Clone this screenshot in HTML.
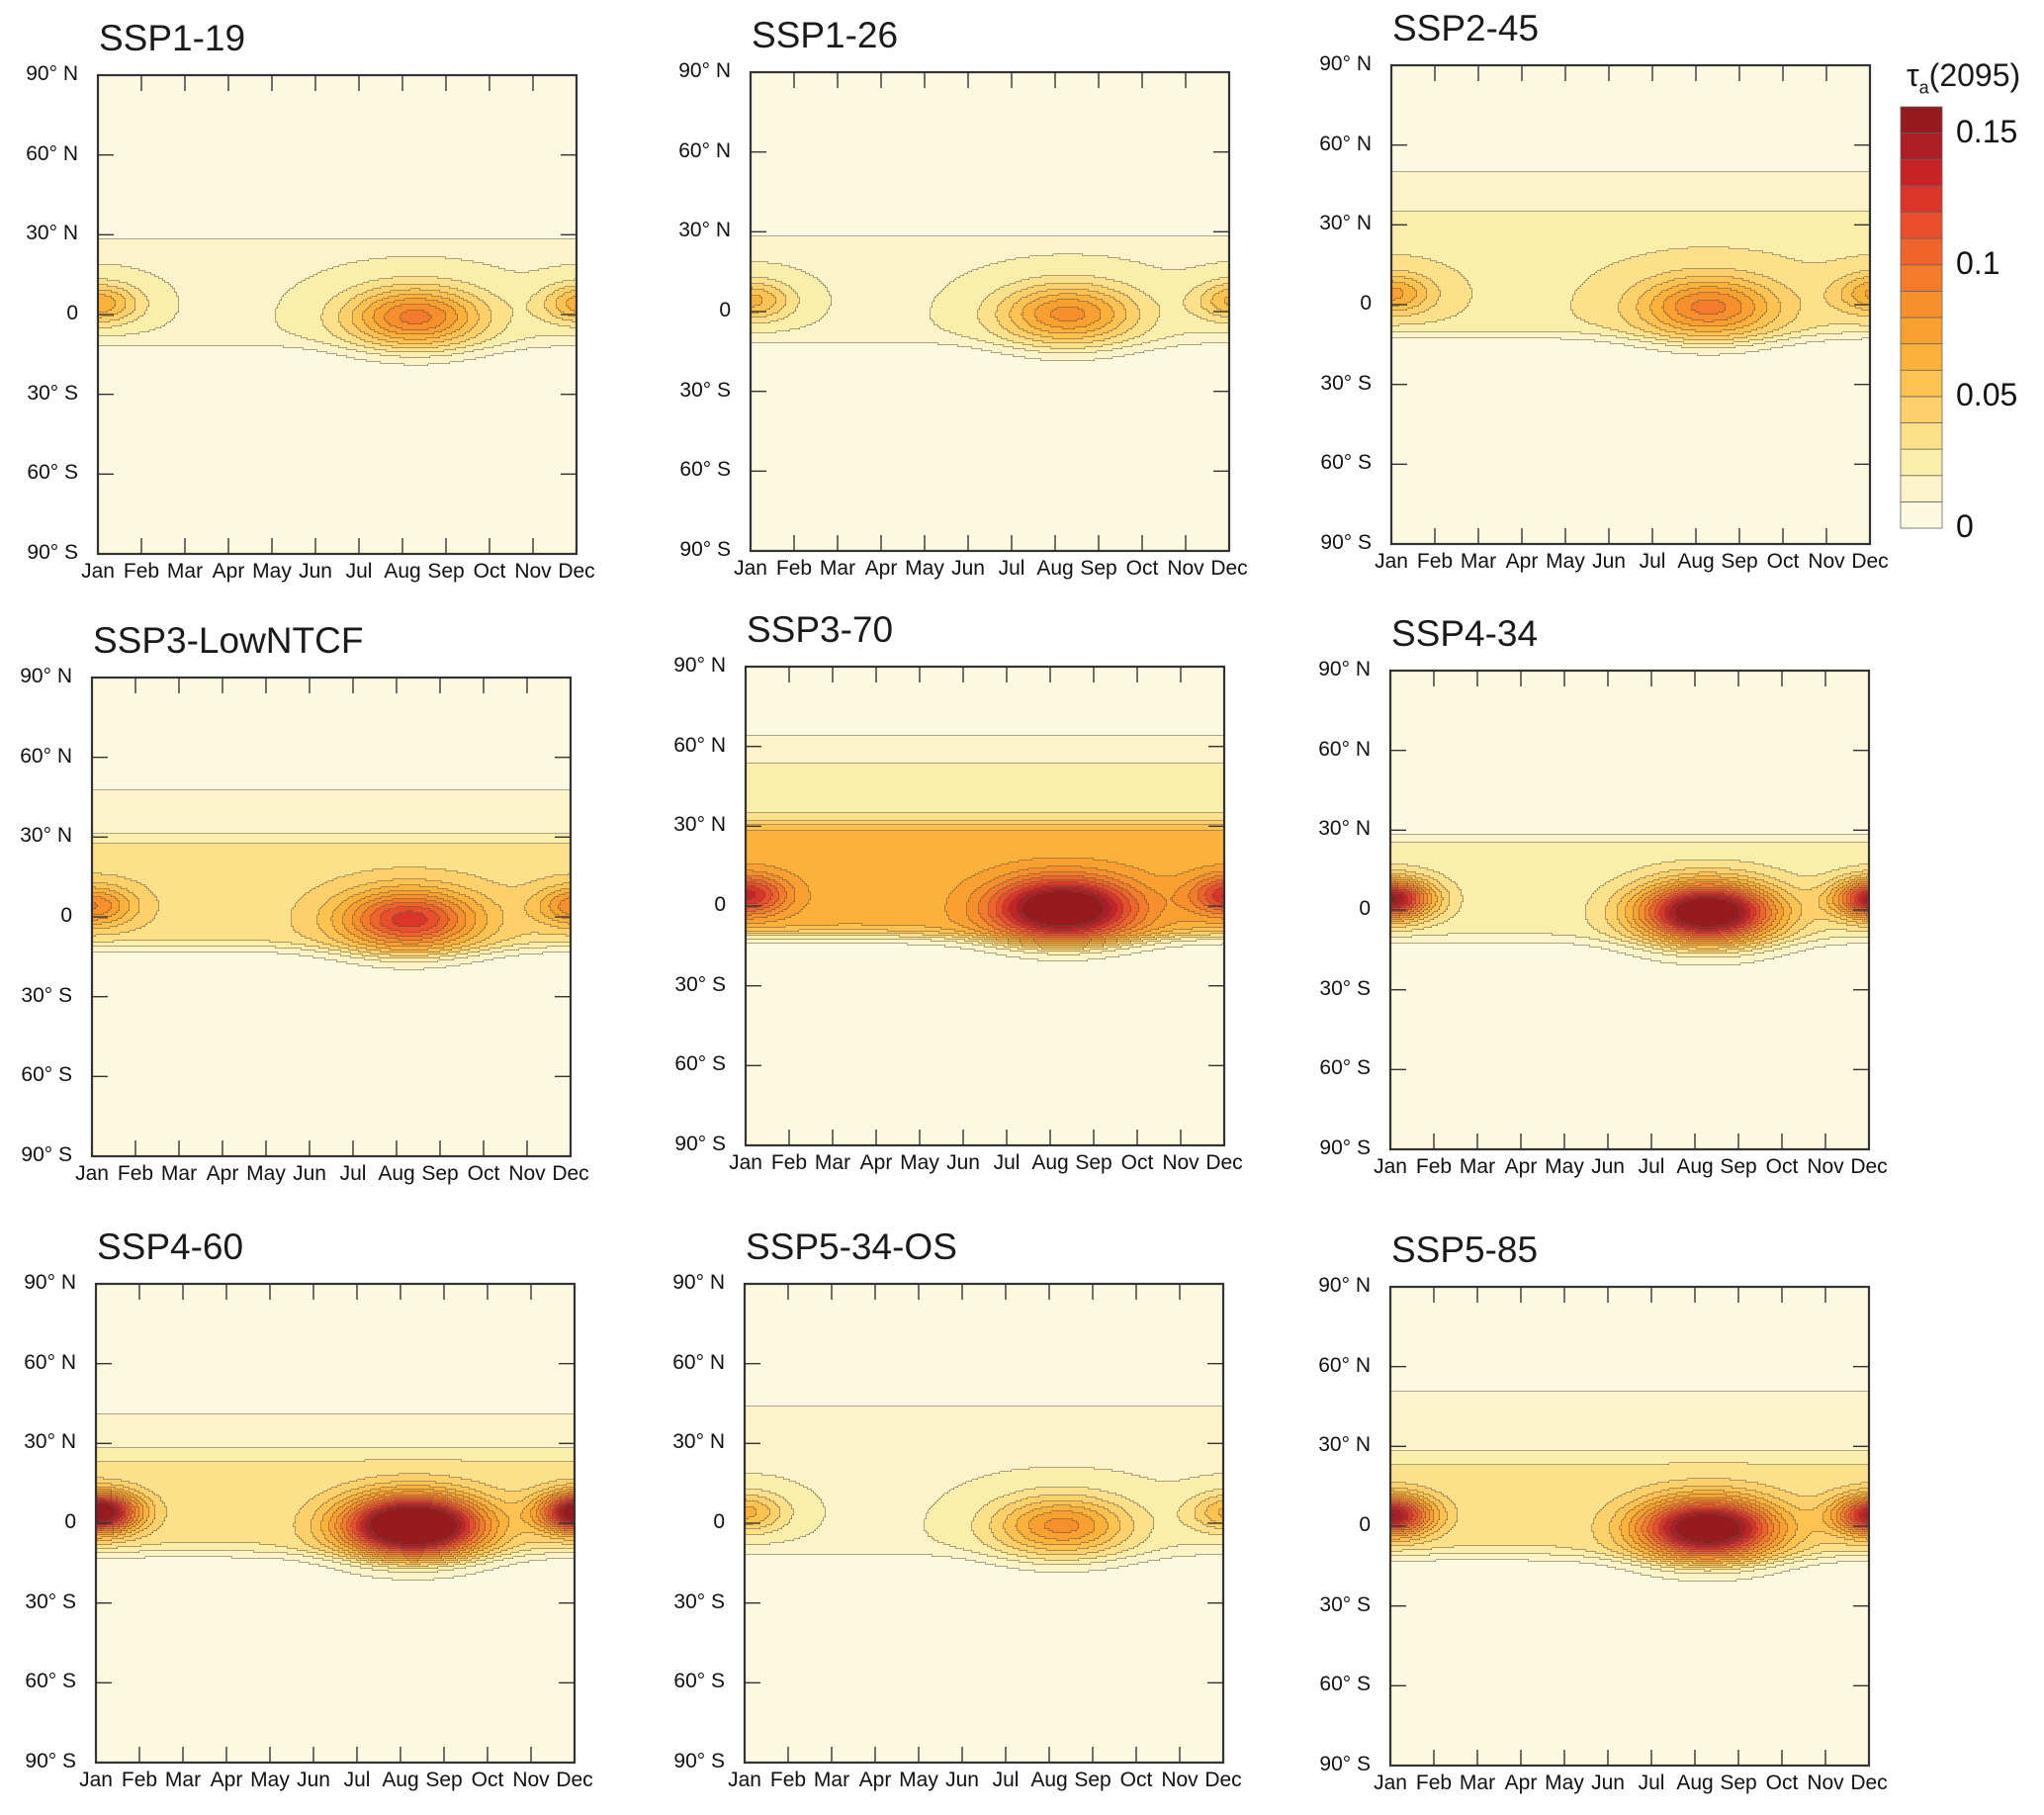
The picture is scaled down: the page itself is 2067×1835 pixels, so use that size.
<!DOCTYPE html>
<html><head><meta charset="utf-8">
<style>
body{margin:0;background:#fff;width:2067px;height:1835px;position:relative;overflow:hidden;font-family:"Liberation Sans",sans-serif;}
.title{position:absolute;font-size:37px;color:#1a1a1a;white-space:nowrap;}
.lab{position:absolute;font-size:21px;color:#111;white-space:nowrap;}
</style></head><body>
<div id="root"></div>
<div class="title" style="left:1928px;top:58px;font-size:32px;">τ<sub style="font-size:18px">a</sub>(2095)</div>
<script>
var scenarios = ['SSP1-19','SSP1-26','SSP2-45','SSP3-LowNTCF','SSP3-70','SSP4-34','SSP4-60','SSP5-34-OS','SSP5-85'];
var augPeak   = [0.075,0.065,0.065,0.09,0.125,0.16,0.18,0.065,0.15];
var janPeak   = [0.05,0.045,0.045,0.055,0.07,0.13,0.15,0.045,0.12];
var bandVal   = [0.015,0.015,0.025,0.032,0.06,0.02,0.028,0.015,0.028];
var northEdge = [28,28,32,28,31,27,25,24,25];
var outerVal  = [0,0,0.015,0.015,0.025,0,0.015,0.012,0.015];
var outerEdge = [28,28,49,47,57,27,40,44,50];
var outerSoft = [1,1,1.5,1.5,6,1,1.5,1.5,2];
var months = ['Jan','Feb','Mar','Apr','May','Jun','Jul','Aug','Sep','Oct','Nov','Dec'];
var latTicks = [90,60,30,0,-30,-60,-90];
var latLabels = ['90° N','60° N','30° N','0','30° S','60° S','90° S'];
var levels = [0,0.01,0.02,0.03,0.04,0.05,0.06,0.07,0.08,0.09,0.10,0.11,0.12,0.13,0.14,0.15,0.16];
var cbLabels = [0,0.05,0.1,0.15];
var colors = ['#fdf9e1','#fcf3c8','#fbeeab','#fde08a','#fdd06a','#fdc24f','#fbb13a','#f9a030','#f78f2d','#f47a2c','#f0632a','#ea4e2a','#dd3429','#c82226','#ae1c24','#951b1f'];
var pos = [[99,76],[759,73],[1407,66],[93,685],[754,674],[1406,678],[97,1298],[753,1298],[1406,1301]];
var PW=484, PH=484, CS=2;
var SVGNS='http://www.w3.org/2000/svg';
function sg(x){return 1/(1+Math.exp(-x));}
function sq(x){return x*x;}
function fieldVal(i,t,lat){
  var sEdge=-11-4*Math.exp(-sq((t-7.3)/2));
  var v=0.004;
  v+=bandVal[i]*sg((lat-sEdge)/1.5)*sg((northEdge[i]-lat)/1.2);
  v+=outerVal[i]*sg((lat-northEdge[i])/1.2)*sg((outerEdge[i]-lat)/outerSoft[i]);
  v+=augPeak[i]*Math.exp(-sq((t-7.3)/1.55)-sq((lat+1)/11));
  v+=janPeak[i]*(Math.exp(-sq(t/0.95))+Math.exp(-sq((t-11.2)/0.95)))*Math.exp(-sq((lat-4)/7.5));
  return v;
}
function binOf(v){var b=0;for(var k=1;k<levels.length-1;k++){if(v>=levels[k])b=k;}return b;}
function xScale(t,L){return L+t/11*PW;}
function yScale(lat,T){return T+(90-lat)/180*PH;}
function addLabel(parent,txt,name,left,top,width,align,size){
  var d=document.createElement('div');d.className='lab';d.appendChild(document.createTextNode(txt));
  d.style.left=left+'px';d.style.top=top+'px';
  if(width){d.style.width=width+'px';d.style.textAlign=align;}
  if(size)d.style.fontSize=size+'px';
  
  
  parent.appendChild(d);
}
function drawPanel(i){
  var rootEl=document.getElementById('root');
  var nm=scenarios[i];
  var L=pos[i][0],T=pos[i][1];
  var g=document.createElement('div');
  
  
  rootEl.appendChild(g);
  var ti=document.createElement('div');ti.className='title';ti.appendChild(document.createTextNode(nm));
  ti.style.left=(L+1)+'px';ti.style.top=(T-58)+'px';
  
  
  g.appendChild(ti);
  var nx=PW/CS, ny=PH/CS, x, y;
  var grid=[];
  for(y=0;y<ny;y++){var lat=90-(y+0.5)*CS/PH*180;var row=[];for(x=0;x<nx;x++){row.push(binOf(fieldVal(i,(x+0.5)*CS/PW*11,lat)));}grid.push(row);}
  var s=[];
  for(y=0;y<ny;y++){
    var r=grid[y];var x0=0;
    for(x=1;x<=nx;x++){
      if(x===nx||r[x]!==r[x0]){
        s.push('<rect x="'+(x0*CS)+'" y="'+(y*CS)+'" width="'+((x-x0)*CS+0.5)+'" height="'+(CS+0.5)+'" fill="'+colors[r[x0]]+'"/>');
        if(x<nx) s.push('<rect x="'+(x*CS-0.5)+'" y="'+(y*CS)+'" width="1.1" height="'+CS+'" fill="#5a5040"/>');
        x0=x;
      }
    }
    if(y<ny-1){
      var nr=grid[y+1];var st=-1;
      for(x=0;x<=nx;x++){
        var d=(x<nx)&&(nr[x]!==r[x]);
        if(d&&st<0)st=x;
        if(!d&&st>=0){s.push('<rect x="'+(st*CS)+'" y="'+((y+1)*CS-0.5)+'" width="'+((x-st)*CS)+'" height="1.1" fill="#5a5040"/>');st=-1;}
      }
    }
  }
  s.push('<rect x="0" y="0" width="'+PW+'" height="'+PH+'" fill="none" stroke="#333" stroke-width="2.2"/>');
  for(var m=1;m<11;m++){var xx=xScale(m,0);s.push('<line x1="'+xx+'" y1="0" x2="'+xx+'" y2="16" stroke="#333" stroke-width="1.4"/><line x1="'+xx+'" y1="'+PH+'" x2="'+xx+'" y2="'+(PH-16)+'" stroke="#333" stroke-width="1.4"/>');}
  for(var k=1;k<latTicks.length-1;k++){var yy=yScale(latTicks[k],0);s.push('<line x1="0" y1="'+yy+'" x2="16" y2="'+yy+'" stroke="#333" stroke-width="1.4"/><line x1="'+PW+'" y1="'+yy+'" x2="'+(PW-16)+'" y2="'+yy+'" stroke="#333" stroke-width="1.4"/>');}
  var holder=document.createElement('div');
  holder.style.position='absolute';holder.style.left=L+'px';holder.style.top=T+'px';
  holder.style.width=PW+'px';holder.style.height=PH+'px';
  
  
  holder.innerHTML='<svg xmlns="'+SVGNS+'" width="'+PW+'" height="'+PH+'" style="display:block;overflow:visible">'+s.join('')+'</svg>';
  g.appendChild(holder);
  for(k=0;k<months.length;k++) addLabel(g,months[k],'x-tick-label',xScale(k,L)-24,T+PH+6,48,'center');
  for(k=0;k<latTicks.length;k++) addLabel(g,latLabels[k],'y-tick-label',L-86,yScale(latTicks[k],T)-13,66,'right');
}
for(var pi=0;pi<scenarios.length;pi++){ try{ drawPanel(pi); }catch(e){} }
var cbL=1922,cbT=108,cbW=42,cbH=426;
var bh=cbH/colors.length;var cs=[];
for(var c=0;c<colors.length;c++){var cy=2+cbH-(c+1)*bh;cs.push('<rect x="2" y="'+cy+'" width="'+cbW+'" height="'+bh+'" fill="'+colors[c]+'" stroke="#666" stroke-width="0.8"/>');}
var cbd=document.createElement('div');
cbd.style.position='absolute';cbd.style.left=(cbL-2)+'px';cbd.style.top=(cbT-2)+'px';


cbd.innerHTML='<svg xmlns="'+SVGNS+'" width="'+(cbW+4)+'" height="'+(cbH+4)+'" style="display:block">'+cs.join('')+'</svg>';
document.body.appendChild(cbd);
for(var q=0;q<cbLabels.length;q++) addLabel(document.body,String(cbLabels[q]),'colorbar-label',cbL+56,cbT+cbH-cbLabels[q]/levels[levels.length-1]*cbH-20,0,'',32);
</script>
</body></html>
